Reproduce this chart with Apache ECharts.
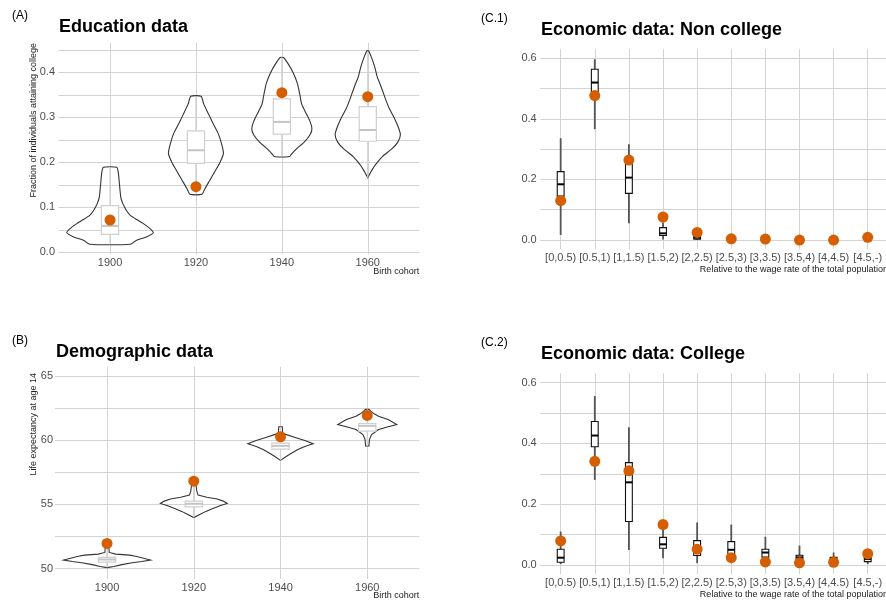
<!DOCTYPE html>
<html><head><meta charset="utf-8">
<script src="https://cdn.jsdelivr.net/npm/echarts@6/dist/echarts.min.js"></script>
<style>html,body{margin:0;padding:0;background:#fff}#c{width:886px;height:601px}</style>
</head><body><div id="c"></div>
<script>
// ---------- categories / ticks ----------
const cohorts = ['1900', '1920', '1940', '1960'];
const wageBins = ['[0,0.5)', '[0.5,1)', '[1,1.5)', '[1.5,2)', '[2,2.5)', '[2.5,3)', '[3,3.5)', '[3.5,4)', '[4,4.5)', '[4.5,-)'];
const eduLabelTicks = [0, 0.1, 0.2, 0.3, 0.4];
const eduGridTicks = [0, 0.05, 0.1, 0.15, 0.2, 0.25, 0.3, 0.35, 0.4, 0.45];
const demoLabelTicks = [50, 55, 60, 65];
const demoGridTicks = [50, 52.5, 55, 57.5, 60, 62.5, 65];
const econTicks = [0, 0.1, 0.2, 0.3, 0.4, 0.5, 0.6];
const econLabelTicks = [0, 0.2, 0.4, 0.6];

// ---------- (A) Education data ----------
const eduPoints = [0.072, 0.146, 0.355, 0.346];
// [lower whisker, Q1, median, Q3, upper whisker]
const eduBoxes = [
  [0.018, 0.040, 0.059, 0.104, 0.189],
  [0.129, 0.198, 0.227, 0.270, 0.347],
  [0.213, 0.263, 0.290, 0.341, 0.433],
  [0.166, 0.247, 0.272, 0.324, 0.445]
];
// violin outlines: [value, half width in cohort units], top to bottom
const eduViolin1900 = [[0.189,0.078],[0.176,0.097],[0.153,0.109],[0.124,0.124],[0.110,0.145],[0.101,0.168],[0.092,0.195],[0.083,0.233],[0.073,0.31],[0.064,0.388],[0.053,0.465],[0.044,0.504],[0.035,0.43],[0.027,0.31],[0.018,0.233]];
const eduViolin1920 = [[0.347,0.06],[0.330,0.09],[0.310,0.14],[0.290,0.19],[0.264,0.26],[0.240,0.30],[0.220,0.32],[0.200,0.28],[0.180,0.22],[0.160,0.16],[0.140,0.10],[0.129,0.07]];
const eduViolin1940 = [[0.433,0.02],[0.420,0.07],[0.400,0.13],[0.376,0.18],[0.350,0.21],[0.330,0.23],[0.310,0.28],[0.290,0.33],[0.275,0.35],[0.262,0.33],[0.245,0.26],[0.230,0.17],[0.218,0.11],[0.213,0.09]];
const eduViolin1960 = [[0.448,0.01],[0.435,0.04],[0.413,0.08],[0.390,0.11],[0.376,0.14],[0.355,0.18],[0.339,0.21],[0.320,0.25],[0.302,0.30],[0.281,0.35],[0.262,0.38],[0.245,0.35],[0.230,0.28],[0.213,0.17],[0.195,0.09],[0.180,0.04],[0.166,0.0]];

// ---------- (B) Demographic data ----------
const demoPoints = [51.95, 56.8, 60.26, 61.93];
const demoBoxes = [
  [50.08, 50.49, 50.70, 50.86, 51.75],
  [53.97, 54.80, 55.04, 55.25, 56.55],
  [58.42, 59.30, 59.56, 59.77, 61.04],
  [59.55, 60.71, 61.12, 61.30, 62.40]
];
const demoViolin1900 = [[51.75,0.02],[51.25,0.025],[51.12,0.10],[51.04,0.26],[50.95,0.33],[50.82,0.41],[50.66,0.50],[50.55,0.40],[50.45,0.29],[50.30,0.17],[50.15,0.08],[50.07,0.0]];
const demoViolin1920 = [[56.55,0.025],[56.0,0.035],[55.72,0.05],[55.55,0.15],[55.42,0.27],[55.25,0.34],[55.07,0.385],[54.90,0.31],[54.68,0.22],[54.45,0.14],[54.25,0.08],[53.97,0.0]];
const demoViolin1940 = [[61.04,0.02],[60.58,0.025],[60.45,0.06],[60.21,0.17],[59.98,0.28],[59.72,0.377],[59.50,0.28],[59.27,0.20],[59.00,0.13],[58.75,0.07],[58.42,0.0]];
const demoViolin1960 = [[62.40,0.02],[62.26,0.04],[62.05,0.08],[61.87,0.13],[61.61,0.24],[61.22,0.34],[61.00,0.22],[60.83,0.13],[60.44,0.05],[60.05,0.025],[59.60,0.02],[59.55,0.02]];

// ---------- (C.1) Economic data: Non college ----------
const nonCollegePoints = [0.130, 0.477, 0.264, 0.076, 0.025, 0.004, 0.003, 0.0, 0.0, 0.009];
const nonCollegeBoxes = [
  [0.017, 0.145, 0.184, 0.226, 0.336],
  [0.366, 0.490, 0.520, 0.564, 0.597],
  [0.055, 0.154, 0.206, 0.255, 0.316],
  [0.002, 0.015, 0.022, 0.041, 0.058],
  [0.000, 0.003, 0.008, 0.015, 0.022],
  [0.000, 0.000, 0.001, 0.002, 0.004],
  [0.000, 0.000, 0.001, 0.002, 0.004],
  [0.000, 0.000, 0.000, 0.001, 0.002],
  [0.000, 0.000, 0.000, 0.001, 0.002],
  [0.000, 0.002, 0.004, 0.006, 0.012]
];

// ---------- (C.2) Economic data: College ----------
const collegePoints = [0.079, 0.341, 0.310, 0.133, 0.052, 0.024, 0.010, 0.007, 0.009, 0.037];
const collegeBoxes = [
  [0.003, 0.009, 0.024, 0.052, 0.110],
  [0.280, 0.389, 0.426, 0.472, 0.556],
  [0.049, 0.143, 0.272, 0.337, 0.453],
  [0.022, 0.055, 0.068, 0.091, 0.118],
  [0.006, 0.031, 0.055, 0.080, 0.140],
  [0.006, 0.033, 0.050, 0.077, 0.133],
  [0.003, 0.026, 0.041, 0.052, 0.093],
  [0.003, 0.016, 0.025, 0.032, 0.064],
  [0.002, 0.010, 0.019, 0.025, 0.041],
  [0.003, 0.011, 0.020, 0.033, 0.052]
];

// ---------- helpers ----------
const FONT = 'Liberation Sans, Arial, sans-serif';
const ORANGE = '#D55E00';
const GRIDC = '#d3d3d3';

function violinRender(profiles, smooth) {
  return function (params, api) {
    const i = api.value(0);
    const prof = profiles[params.dataIndex];
    const right = prof.map(p => api.coord([i + p[1], p[0]]));
    const left = prof.slice().reverse().map(p => api.coord([i - p[1], p[0]]));
    return {
      type: 'polygon',
      shape: { points: right.concat(left), smooth: smooth },
      style: { fill: 'none', stroke: '#333333', lineWidth: 1.1 }
    };
  };
}
function boxRender(opt) {
  return function (params, api) {
    const i = api.value(0);
    const lo = api.value(1), q1 = api.value(2), md = api.value(3), q3 = api.value(4), hi = api.value(5);
    const hw = 0.1;
    const pLo = api.coord([i, lo]), pHi = api.coord([i, hi]);
    const pQ1 = api.coord([i, q1]), pQ3 = api.coord([i, q3]);
    const a = api.coord([i - hw, q3]), b = api.coord([i + hw, q1]);
    const m1 = api.coord([i - hw, md]), m2 = api.coord([i + hw, md]);
    return {
      type: 'group',
      children: [
        { type: 'line', shape: { x1: pQ3[0], y1: pQ3[1], x2: pHi[0], y2: pHi[1] }, style: { stroke: opt.whisker, lineWidth: opt.whiskerWidth } },
        { type: 'line', shape: { x1: pQ1[0], y1: pQ1[1], x2: pLo[0], y2: pLo[1] }, style: { stroke: opt.whisker, lineWidth: opt.whiskerWidth } },
        { type: 'rect', shape: { x: a[0], y: a[1], width: b[0] - a[0], height: b[1] - a[1] }, style: { fill: '#ffffff', stroke: opt.box, lineWidth: opt.boxWidth } },
        { type: 'line', shape: { x1: m1[0], y1: m1[1], x2: m2[0], y2: m2[1] }, style: { stroke: opt.median, lineWidth: opt.medianWidth } }
      ]
    };
  };
}
function boxData(boxes) { return boxes.map((b, i) => [i].concat(b)); }
function violinData(profiles) { return profiles.map((p, i) => [i, p[p.length - 1][0], p[0][0]]); }
function pointData(vals) { return vals.map((v, i) => [i, v]); }

function xAxis(gi, n, names) {
  return {
    type: 'value', gridIndex: gi, min: -0.6, max: n - 1 + 0.6,
    axisLine: { show: false }, axisTick: { show: false, customValues: names.map((_, i) => i) },
    splitLine: { show: true, lineStyle: { color: GRIDC, width: 1 } },
    axisLabel: { customValues: names.map((_, i) => i), formatter: v => names[Math.round(v)], color: '#4d4d4d', fontSize: 11, fontFamily: FONT, margin: 3, interval: 0, hideOverlap: false }
  };
}
function yAxis(gi, min, max, labelTicks, gridTicks, fmt, margin) {
  return {
    type: 'value', gridIndex: gi, min: min, max: max,
    axisLine: { show: false }, axisTick: { show: false, customValues: gridTicks },
    splitLine: { show: true, lineStyle: { color: GRIDC, width: 1 } },
    axisLabel: { customValues: labelTicks, formatter: fmt, color: '#4d4d4d', fontSize: 11, fontFamily: FONT, margin: margin }
  };
}
function txt(x, y, text, size, opts) {
  opts = opts || {};
  return {
    type: 'text', x: x, y: y, rotation: opts.rot || 0,
    style: { text: text, fill: opts.color || '#000', font: (opts.bold ? 'bold ' : '') + size + 'px ' + FONT, align: opts.align || 'left', verticalAlign: 'middle' }
  };
}

const chart = echarts.init(document.getElementById('c'), null, { renderer: 'canvas' });
const lightBox = { whisker: '#cfcfcf', whiskerWidth: 1.2, box: '#cfcfcf', boxWidth: 1.2, median: '#c4c4c4', medianWidth: 2 };
const darkBox = { whisker: '#555555', whiskerWidth: 1.8, box: '#111111', boxWidth: 1.1, median: '#000000', medianWidth: 2 };

const eduViolins = [eduViolin1900, eduViolin1920, eduViolin1940, eduViolin1960];
const demoViolins = [demoViolin1900, demoViolin1920, demoViolin1940, demoViolin1960];

chart.setOption({
  animation: false,
  backgroundColor: '#ffffff',
  grid: [
    { left: 58.5, top: 42.7, width: 360.8, height: 211.5, outerBoundsMode: 'none', containLabel: false },
    { left: 55, top: 366.7, width: 364.3, height: 212.3, outerBoundsMode: 'none', containLabel: false },
    { left: 540.2, top: 49, width: 348, height: 200.1, outerBoundsMode: 'none', containLabel: false },
    { left: 540.2, top: 373.3, width: 348, height: 200.8, outerBoundsMode: 'none', containLabel: false }
  ],
  xAxis: [xAxis(0, 4, cohorts), xAxis(1, 4, cohorts), xAxis(2, 10, wageBins), xAxis(3, 10, wageBins)],
  yAxis: [
    yAxis(0, -0.004, 0.466, eduLabelTicks, eduGridTicks, v => v.toFixed(1), 3.5),
    yAxis(1, 49.18, 65.725, demoLabelTicks, demoGridTicks, v => String(Math.round(v)), 2),
    yAxis(2, -0.030, 0.6308, econLabelTicks, econTicks, v => v.toFixed(1), 3.5),
    yAxis(3, -0.030, 0.6308, econLabelTicks, econTicks, v => v.toFixed(1), 3.5)
  ],
  series: [
    { type: 'custom', xAxisIndex: 0, yAxisIndex: 0, z: 2, renderItem: violinRender(eduViolins, 0.2), data: violinData(eduViolins), encode: { x: 0, y: [1, 2] } },
    { type: 'custom', xAxisIndex: 0, yAxisIndex: 0, z: 3, renderItem: boxRender(lightBox), data: boxData(eduBoxes), encode: { x: 0, y: [1, 2, 3, 4, 5] } },
    { type: 'scatter', xAxisIndex: 0, yAxisIndex: 0, z: 4, symbolSize: 11, itemStyle: { color: ORANGE, opacity: 1 }, data: pointData(eduPoints) },

    { type: 'custom', xAxisIndex: 1, yAxisIndex: 1, z: 2, renderItem: violinRender(demoViolins, 0), data: violinData(demoViolins), encode: { x: 0, y: [1, 2] } },
    { type: 'custom', xAxisIndex: 1, yAxisIndex: 1, z: 3, renderItem: boxRender(lightBox), data: boxData(demoBoxes), encode: { x: 0, y: [1, 2, 3, 4, 5] } },
    { type: 'scatter', xAxisIndex: 1, yAxisIndex: 1, z: 4, symbolSize: 11, itemStyle: { color: ORANGE, opacity: 1 }, data: pointData(demoPoints) },

    { type: 'custom', xAxisIndex: 2, yAxisIndex: 2, z: 3, renderItem: boxRender(darkBox), data: boxData(nonCollegeBoxes), encode: { x: 0, y: [1, 2, 3, 4, 5] } },
    { type: 'scatter', xAxisIndex: 2, yAxisIndex: 2, z: 4, symbolSize: 11, itemStyle: { color: ORANGE, opacity: 1 }, data: pointData(nonCollegePoints) },

    { type: 'custom', xAxisIndex: 3, yAxisIndex: 3, z: 3, renderItem: boxRender(darkBox), data: boxData(collegeBoxes), encode: { x: 0, y: [1, 2, 3, 4, 5] } },
    { type: 'scatter', xAxisIndex: 3, yAxisIndex: 3, z: 4, symbolSize: 11, itemStyle: { color: ORANGE, opacity: 1 }, data: pointData(collegePoints) }
  ],
  graphic: [
    txt(12, 16, '(A)', 12),
    txt(59, 26.7, 'Education data', 18, { bold: true }),
    txt(12, 340.7, '(B)', 12),
    txt(56, 351.7, 'Demographic data', 18, { bold: true }),
    txt(481, 18.3, '(C.1)', 12),
    txt(541, 30, 'Economic data: Non college', 18, { bold: true }),
    txt(481, 342.7, '(C.2)', 12),
    txt(541, 354.3, 'Economic data: College', 18, { bold: true }),
    txt(33.3, 43, 'Fraction of individuals attaining college', 9, { rot: Math.PI / 2, align: 'right', color: '#222' }),
    txt(33.3, 373, 'Life expectancy at age 14', 9, { rot: Math.PI / 2, align: 'right', color: '#222' }),
    txt(419.3, 271.7, 'Birth cohort', 9, { align: 'right', color: '#222' }),
    txt(419.3, 596, 'Birth cohort', 9, { align: 'right', color: '#222' }),
    txt(888, 269.3, 'Relative to the wage rate of the total population', 9, { align: 'right', color: '#222' }),
    txt(888, 595, 'Relative to the wage rate of the total population', 9, { align: 'right', color: '#222' })
  ]
});
</script>
</body></html>
